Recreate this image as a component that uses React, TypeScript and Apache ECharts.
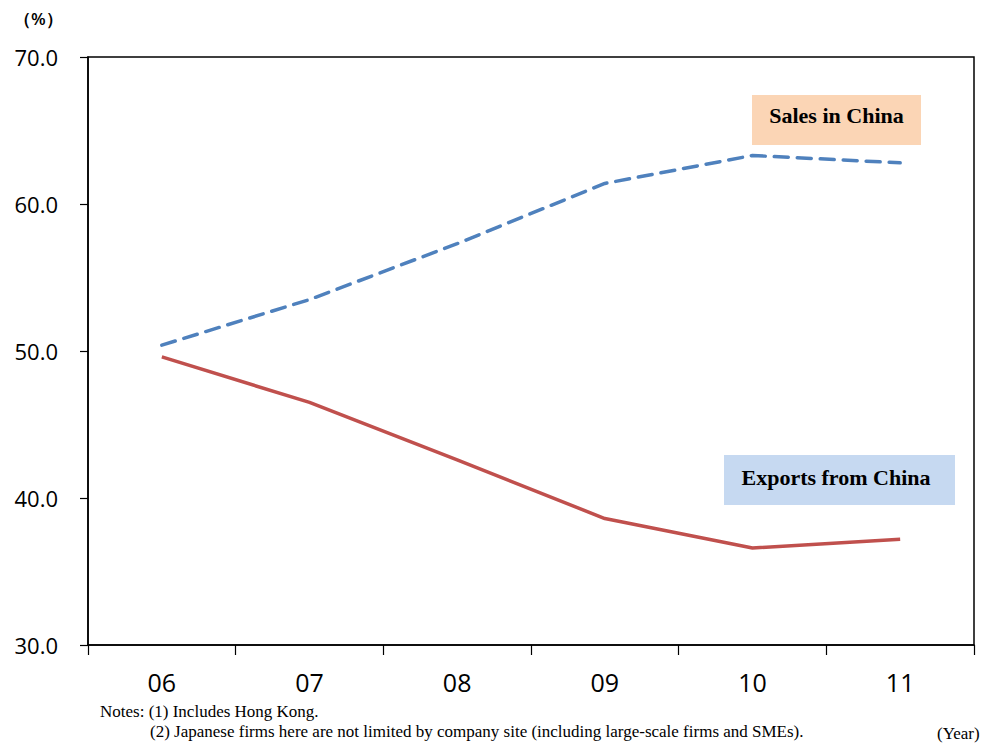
import React, { useEffect, useRef } from "react";
import * as echarts from "echarts";

// Share of Japanese affiliates' sales, by destination (%)
const years = ["06", "07", "08", "09", "10", "11"];
const salesInChina = [50.4, 53.5, 57.3, 61.4, 63.3, 62.8];
const exportsFromChina = [49.6, 46.5, 42.6, 38.6, 36.6, 37.2];
const yTicks = { min: 30, max: 70, interval: 10 };

const notes = [
  "Notes: (1) Includes Hong Kong.",
  "(2) Japanese firms here are not limited by company site (including large-scale firms and SMEs).",
];

const sansFont = "'Open Sans', 'Noto Sans', sans-serif";
const serifFont = "'Liberation Serif', 'DejaVu Serif', serif";

export default function App() {
  const ref = useRef<HTMLDivElement>(null);

  useEffect(() => {
    if (!ref.current) return;
    const chart = echarts.init(ref.current, null, { renderer: "svg" });
    chart.setOption({
      animation: false,
      backgroundColor: "#ffffff",
      grid: { left: 88, right: 12, top: 57, bottom: 98, show: true, borderColor: "#000", borderWidth: 1.5, backgroundColor: "transparent" },
      xAxis: {
        type: "category",
        data: years,
        boundaryGap: true,
        axisLine: { lineStyle: { color: "#000", width: 1.5 } },
        axisTick: { show: true, length: 10, inside: false, lineStyle: { color: "#000", width: 1.2 } },
        axisLabel: { color: "#000", fontSize: 25, fontFamily: sansFont, margin: 24 },
      },
      yAxis: {
        type: "value",
        min: yTicks.min,
        max: yTicks.max,
        interval: yTicks.interval,
        splitLine: { show: false },
        axisLine: { show: true, lineStyle: { color: "#000", width: 1.5 } },
        axisTick: { show: true, length: 8, lineStyle: { color: "#000", width: 1.2 } },
        axisLabel: {
          color: "#000",
          fontSize: 22,
          fontFamily: sansFont,
          margin: 30,
          formatter: (v: number) => v.toFixed(1),
        },
      },
      series: [
        {
          name: "Sales in China",
          type: "line",
          data: salesInChina,
          symbol: "none",
          lineStyle: { color: "#4F81BD", width: 3.5, type: [14, 9], cap: "round" },
        },
        {
          name: "Exports from China",
          type: "line",
          data: exportsFromChina,
          symbol: "none",
          lineStyle: { color: "#C0504D", width: 3.5 },
        },
      ],
      graphic: [
        { type: "text", left: 14, top: 10, style: { text: "（%）", font: `600 17px ${sansFont}`, fill: "#000" } },
        {
          type: "group",
          left: 752,
          top: 95,
          children: [
            { type: "rect", shape: { x: 0, y: 0, width: 169, height: 50 }, style: { fill: "#FBD5B5" } },
            { type: "text", x: 84.5, y: 20, style: { text: "Sales in China", font: `bold 22px ${serifFont}`, fill: "#000", align: "center", verticalAlign: "middle" } },
          ],
        },
        {
          type: "group",
          left: 724,
          top: 455,
          children: [
            { type: "rect", shape: { x: 0, y: 0, width: 231, height: 50 }, style: { fill: "#C6D9F1" } },
            { type: "text", x: 112, y: 22, style: { text: "Exports from China", font: `bold 22px ${serifFont}`, fill: "#000", align: "center", verticalAlign: "middle" } },
          ],
        },
        { type: "text", left: 100, top: 703, style: { text: notes[0], font: `17px ${serifFont}`, fill: "#000" } },
        { type: "text", left: 150, top: 723, style: { text: notes[1], font: `17px ${serifFont}`, fill: "#000" } },
        { type: "text", left: 937, top: 725, style: { text: "(Year)", font: `17px ${serifFont}`, fill: "#000" } },
      ],
    });
    return () => chart.dispose();
  }, []);

  return <div ref={ref} style={{ width: 986, height: 743, position: "absolute", left: 0, top: 0 }} />;
}
